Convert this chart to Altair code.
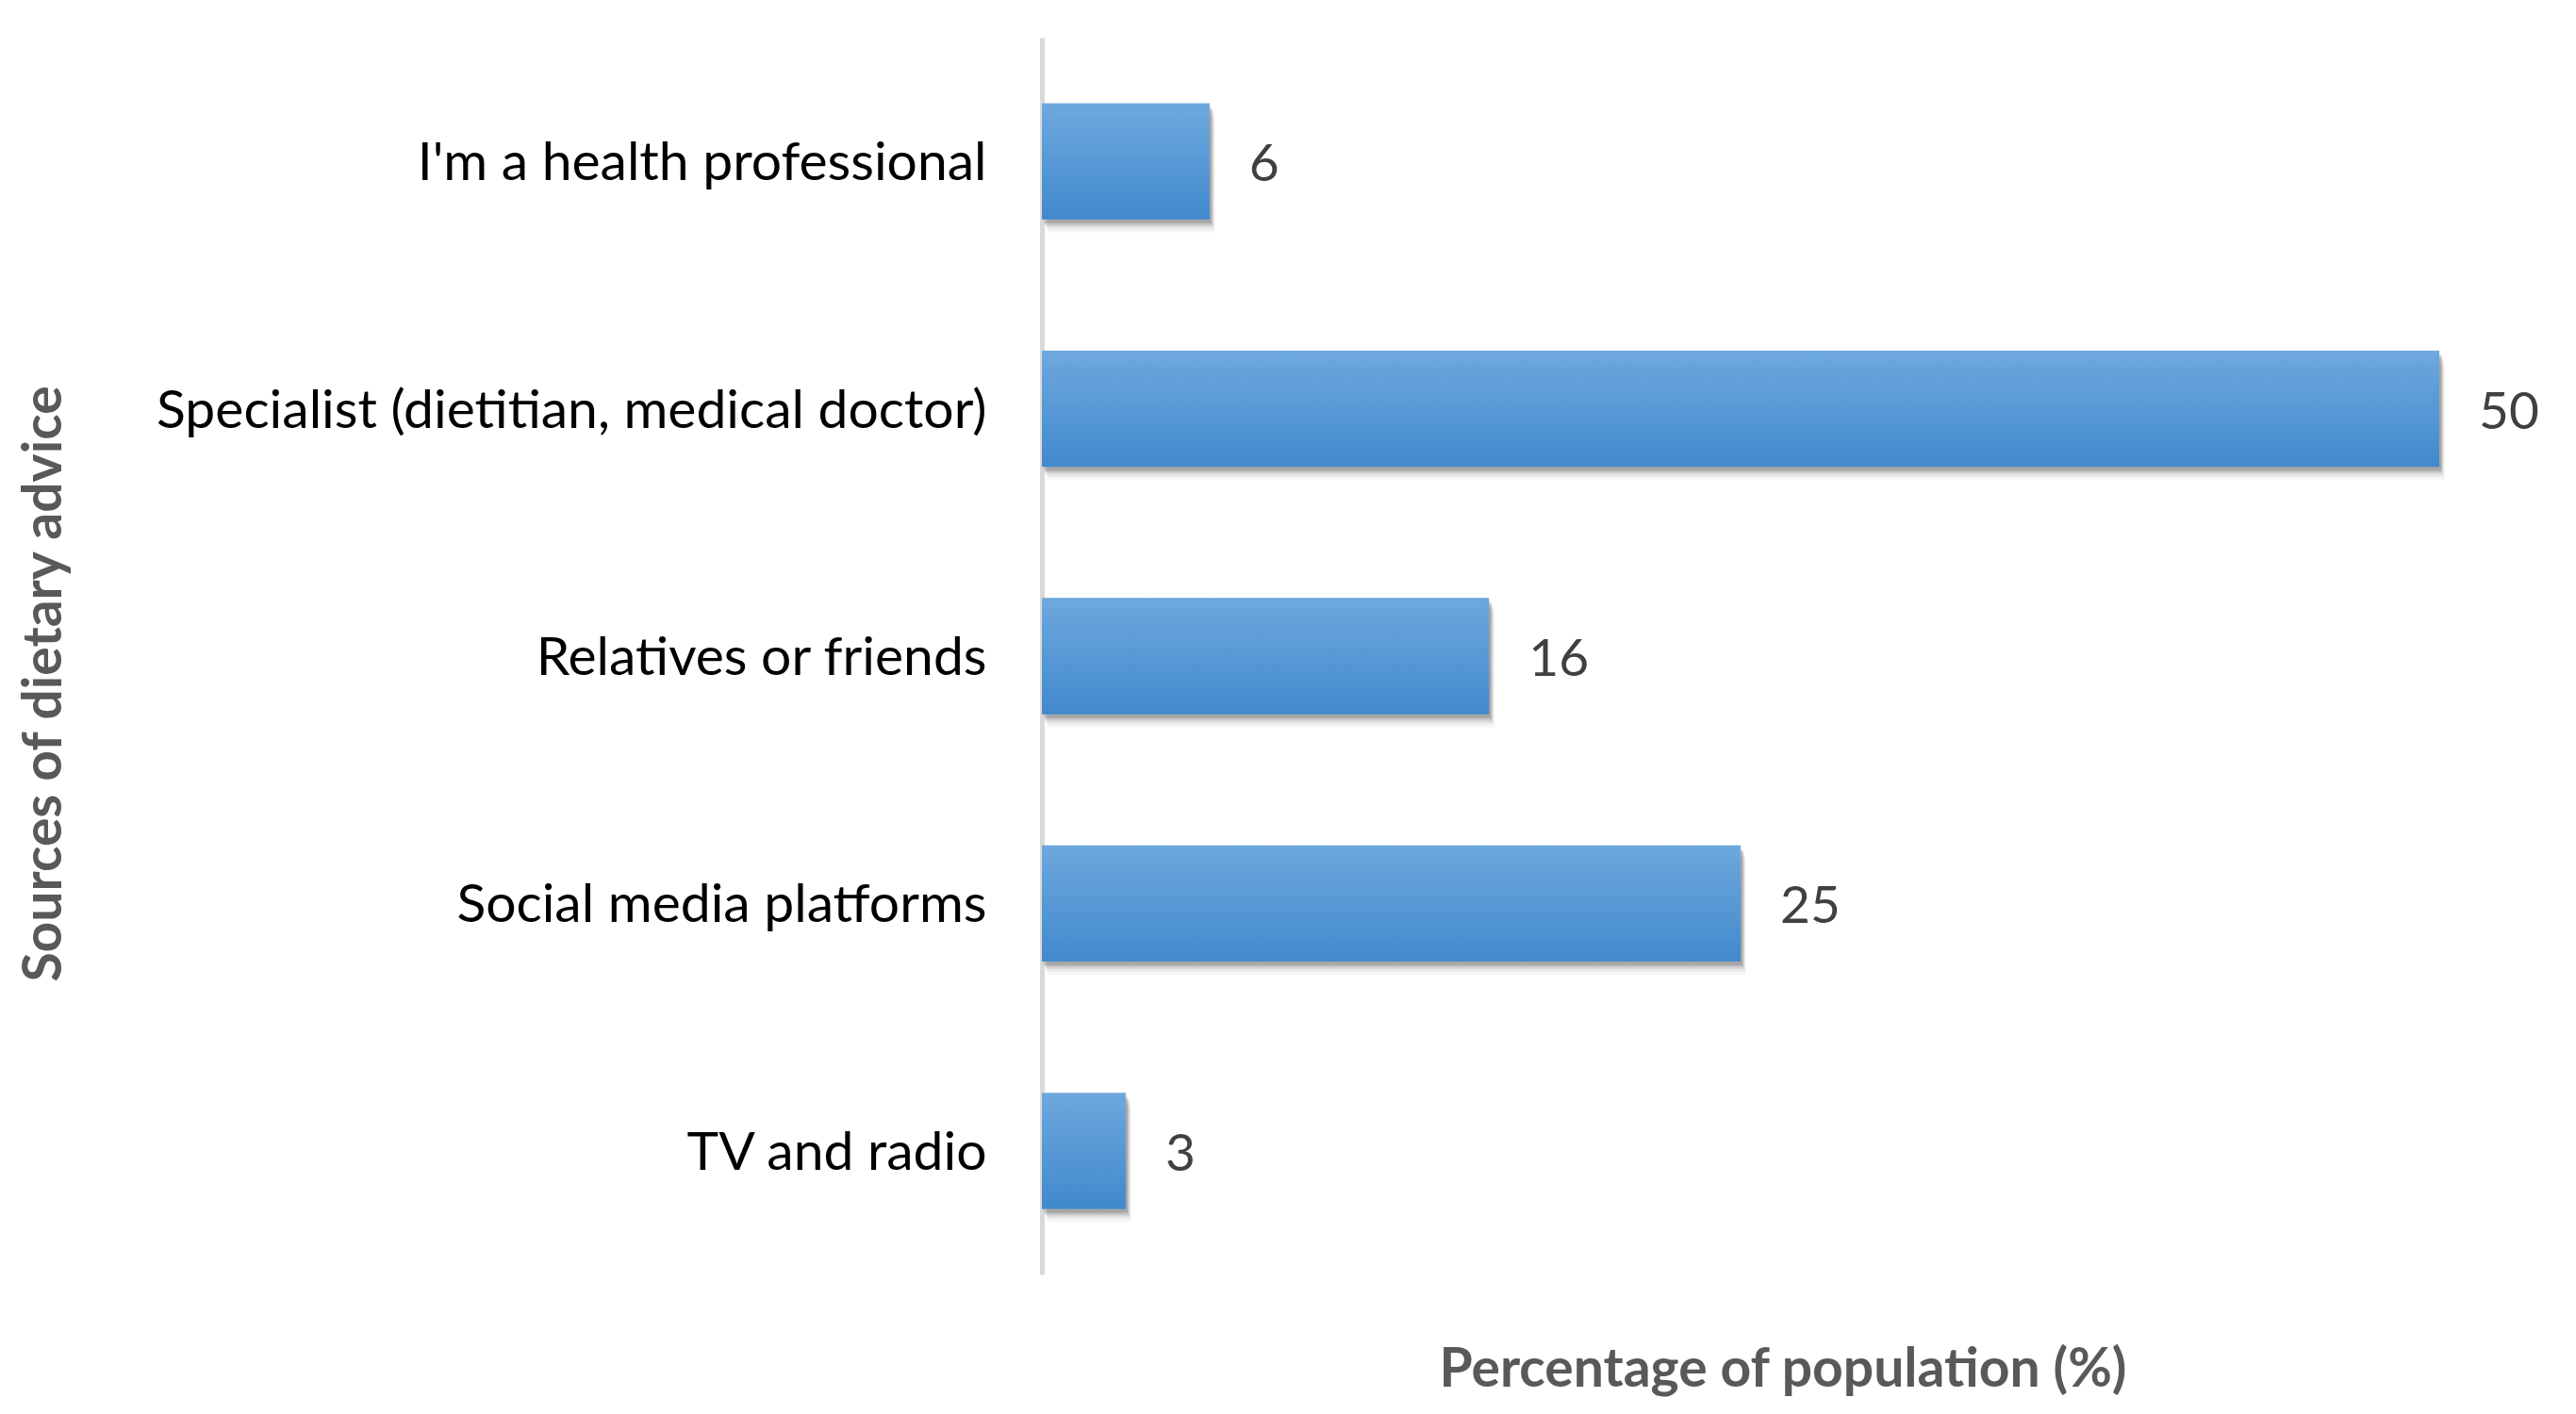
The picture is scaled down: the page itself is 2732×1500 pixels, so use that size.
import altair as alt
import pandas as pd

sources = [
    "I'm a health professional",
    "Specialist (dietitian, medical doctor)",
    "Relatives or friends",
    "Social media platforms",
    "TV and radio",
]
percentages = [6, 50, 16, 25, 3]

df = pd.DataFrame({"source": sources, "pct": percentages})

W = 1571
H = 1312

y_enc = alt.Y(
    "source:N",
    sort=None,
    scale=alt.Scale(paddingInner=0.53, paddingOuter=0.265),
    axis=alt.Axis(
        title="Sources of dietary advice",
        titleFont="Lato",
        titleFontSize=57,
        titleFontWeight="bold",
        titleColor="#595959",
        titleX=-1058,
        titleY=685,
        titleAngle=-90,
        titleAlign="center",
        titleBaseline="middle",
        labelFont="Lato",
        labelFontSize=57,
        labelColor="#000000",
        labelPadding=59,
        labelOffset=3,
        labelLimit=1000,
        ticks=False,
        domainColor="#D9D9D9",
        domainWidth=5,
        grid=False,
    ),
)

x_enc = alt.X(
    "pct:Q",
    scale=alt.Scale(domain=[0, 53], nice=False),
    axis=alt.Axis(
        title="Percentage of population (%)",
        titleFont="Lato",
        titleFontSize=57,
        titleFontWeight="bold",
        titleColor="#595959",
        titleY=101,
        titleBaseline="middle",
        labels=False,
        ticks=False,
        domain=False,
        grid=False,
    ),
)

base = alt.Chart(df)

shadows = [
    base.mark_bar(color="#000000", opacity=op, xOffset=dx, yOffset=dy).encode(x=x_enc, y=y_enc)
    for dx, dy, op in [(2, 4, 0.13), (3, 6, 0.10), (4, 8, 0.08), (5, 11, 0.05), (6, 14, 0.03)]
]

bars = base.mark_bar(
    color=alt.Gradient(
        gradient="linear",
        stops=[
            alt.GradientStop(color="#6EA8DE", offset=0),
            alt.GradientStop(color="#4189CC", offset=1),
        ],
        x1=0, x2=0, y1=0, y2=1,
    )
).encode(x=x_enc, y=y_enc)

labels = base.mark_text(
    align="left", baseline="middle", dx=42, dy=4, font="Lato", fontSize=55, color="#404040"
).encode(x=x_enc, y=y_enc, text="pct:Q")

chart = (
    alt.layer(*shadows, bars, labels)
    .properties(
        width=W,
        height=H,
        autosize=alt.AutoSizeParams(type="none"),
        padding={"left": 1097, "top": 32, "right": 40, "bottom": 140},
        background="white",
    )
    .configure_view(stroke=None)
)

chart.save("out.html", embed_options={"renderer": "svg", "actions": False})
